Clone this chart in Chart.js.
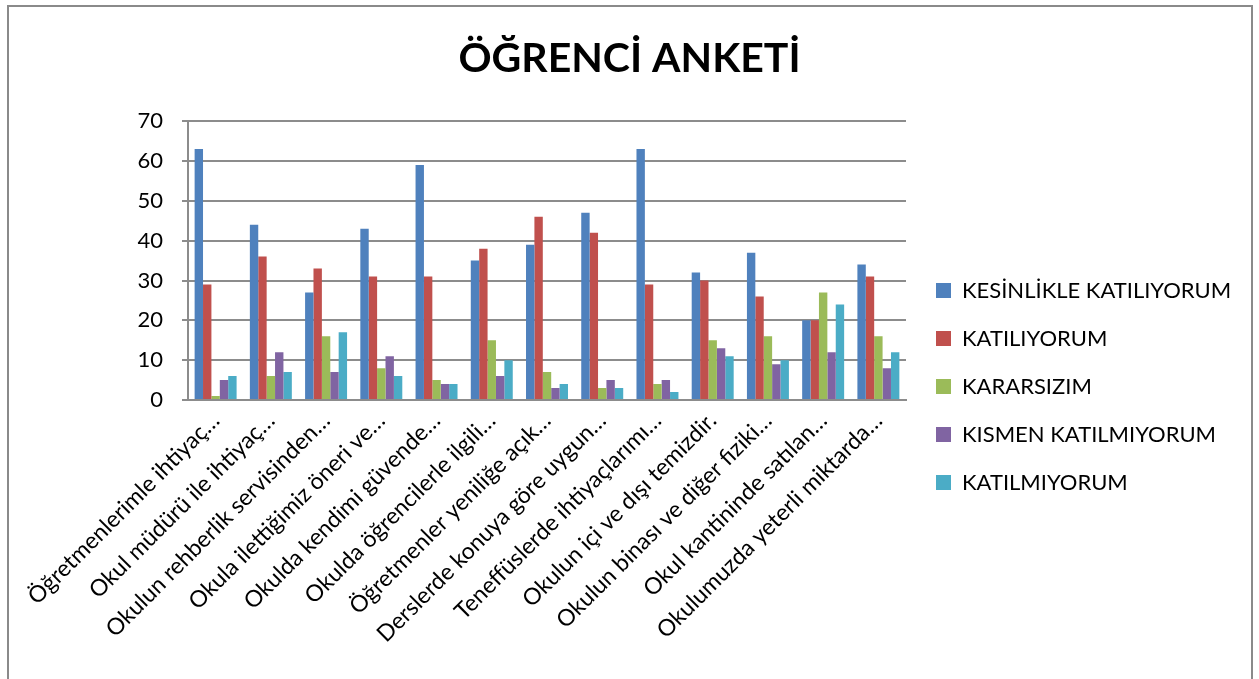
<!DOCTYPE html>
<html>
<head>
<meta charset="utf-8">
<script src="https://cdn.jsdelivr.net/npm/chart.js@4.4.1/dist/chart.umd.min.js"></script>
<style>
  html, body { margin: 0; padding: 0; background: #fff; }
  #frame { position: absolute; left: 7px; top: 5px; width: 1246px; height: 690px; border: 2px solid #8a8a8a; box-sizing: border-box; pointer-events: none; }
  #c { position: absolute; left: 0; top: 0; }
</style>
</head>
<body>
<canvas id="c" width="1259" height="679"></canvas>
<div id="frame"></div>
<script>
const categories = [
  "Öğretmenlerimle ihtiyaç…",
  "Okul müdürü ile ihtiyaç…",
  "Okulun rehberlik servisinden…",
  "Okula ilettiğimiz öneri ve…",
  "Okulda kendimi güvende…",
  "Okulda öğrencilerle ilgili…",
  "Öğretmenler yeniliğe açık…",
  "Derslerde konuya göre uygun…",
  "Teneffüslerde ihtiyaçlarımı…",
  "Okulun içi ve dışı temizdir.",
  "Okulun binası ve diğer fiziki…",
  "Okul kantininde satılan…",
  "Okulumuzda yeterli miktarda…"
];
const seriesNames = ["KESİNLİKLE KATILIYORUM", "KATILIYORUM", "KARARSIZIM", "KISMEN KATILMIYORUM", "KATILMIYORUM"];
const kesinlikleKatiliyorum = [63, 44, 27, 43, 59, 35, 39, 47, 63, 32, 37, 20, 34];
const katiliyorum           = [29, 36, 33, 31, 31, 38, 46, 42, 29, 30, 26, 20, 31];
const kararsizim            = [1, 6, 16, 8, 5, 15, 7, 3, 4, 15, 16, 27, 16];
const kismenKatilmiyorum    = [5, 12, 7, 11, 4, 6, 3, 5, 5, 13, 9, 12, 8];
const katilmiyorum          = [6, 7, 17, 6, 4, 10, 4, 3, 2, 11, 10, 24, 12];
const yTicks = [0, 10, 20, 30, 40, 50, 60, 70];
const chartTitle = "ÖĞRENCİ ANKETİ";

const colors = ["#4F81BD", "#C0504D", "#9BBB59", "#8064A2", "#4BACC6"];
const seriesData = [kesinlikleKatiliyorum, katiliyorum, kararsizim, kismenKatilmiyorum, katilmiyorum];

const datasets = seriesNames.map((name, i) => ({
  label: name,
  data: seriesData[i],
  backgroundColor: colors[i],
  borderWidth: 0,
  barPercentage: 1.0,
  categoryPercentage: 0.76
}));

const PAD = 40;
const LEGEND_W = 1259 - PAD - 906;

const legendTweak = {
  id: 'legendTweak',
  afterInit(chart) {
    const lg = chart.legend;
    if (!lg) return;
    const f = lg.fit.bind(lg);
    lg.fit = function () { f(); this.width = LEGEND_W; };
  },
  afterLayout(chart) {
    const lg = chart.legend;
    if (!lg) return;
    lg.left += 4; lg.right = 1252;
    lg.width = lg.right - lg.left;
    lg.top += 47; lg.bottom += 47;
  }
};

new Chart(document.getElementById('c'), {
  type: 'bar',
  data: { labels: categories, datasets },
  plugins: [legendTweak],
  options: {
    responsive: false,
    animation: false,
    layout: { padding: { left: PAD, right: PAD, top: 0, bottom: 0 } },
    plugins: {
      title: {
        display: true,
        text: chartTitle,
        color: '#000',
        font: { family: 'Lato', size: 41, weight: 'bold' },
        padding: { top: 34, bottom: 38 }
      },
      legend: {
        position: 'right',
        align: 'center',
        labels: {
          color: '#000',
          font: { family: 'Lato', size: 22 },
          boxWidth: 15,
          boxHeight: 15,
          padding: 26
        }
      },
      tooltip: { enabled: false }
    },
    scales: {
      x: {
        afterFit: (axis) => { axis.height = 279; },
        grid: { display: false, drawTicks: false },
        border: { display: true, color: '#8c8c8c', width: 2 },
        ticks: {
          color: '#000',
          font: { family: 'Lato', size: 23 },
          maxRotation: 45,
          minRotation: 45,
          autoSkip: false,
          padding: 7
        }
      },
      y: {
        min: 0,
        max: 70,
        afterFit: (axis) => { axis.width = 188 - PAD; },
        afterBuildTicks: (axis) => { axis.ticks = yTicks.map(v => ({ value: v })); },
        grid: { color: '#8c8c8c', lineWidth: 2, tickLength: 6 },
        border: { display: true, color: '#8c8c8c', width: 2 },
        ticks: {
          color: '#000',
          font: { family: 'Lato', size: 22 },
          padding: 19
        }
      }
    }
  }
});
</script>
</body>
</html>
